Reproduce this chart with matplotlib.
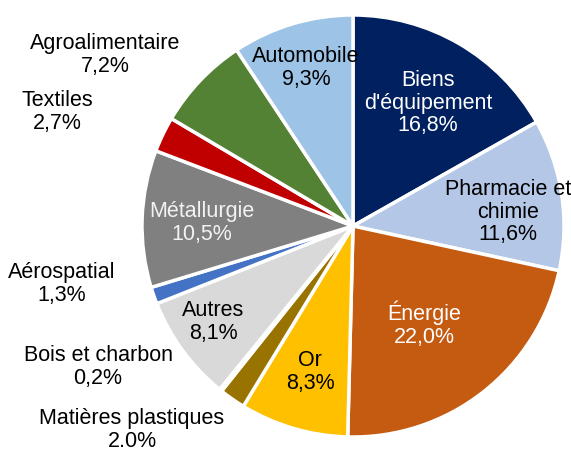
import matplotlib.pyplot as plt

# Secteurs, dans le sens horaire depuis le haut
secteurs = [
    "Biens\nd'équipement", "Pharmacie et\nchimie", "Énergie", "Or",
    "Matières plastiques", "Bois et charbon", "Autres", "Aérospatial",
    "Métallurgie", "Textiles", "Agroalimentaire", "Automobile",
]
parts = [16.8, 11.6, 22.0, 8.3, 2.0, 0.2, 8.1, 1.3, 10.5, 2.7, 7.2, 9.3]
etiquettes_pct = ["16,8%", "11,6%", "22,0%", "8,3%", "2.0%", "0,2%",
                  "8,1%", "1,3%", "10,5%", "2,7%", "7,2%", "9,3%"]
couleurs = ["#002060", "#B4C7E7", "#C55A11", "#FFC000", "#997300", "#7F6000",
            "#D9D9D9", "#4472C4", "#808080", "#C00000", "#548235", "#9DC3E6"]
couleurs_texte = ["white", "black", "white", "black", "black", "black",
                  "black", "black", "#F2F2F2", "black", "black", "black"]

# label placement in pixels (x, y from top)
pos_labels = [(428, 103), (508, 212), (424, 324), (310, 372), (132, 430),
              (98, 367), (213, 322), (62, 284), (202, 223), (57, 112),
              (105, 55), (306, 68)]

W, H = 571, 450
plt.rcParams["font.family"] = ["Liberation Sans", "DejaVu Sans"]

fig = plt.figure(figsize=(W / 100, H / 100), dpi=100)
ax = fig.add_axes([0, 0, 1, 1])

ax.pie(parts, colors=couleurs, startangle=90, counterclock=False,
       center=(353, H - 226), radius=211, frame=True,
       wedgeprops=dict(edgecolor="white", linewidth=2.5))
ax.set_xlim(0, W)
ax.set_ylim(0, H)
ax.set_aspect("equal")
ax.axis("off")

for nom, pct, (x, y), c in zip(secteurs, etiquettes_pct, pos_labels, couleurs_texte):
    ax.text(x, H - y, f"{nom}\n{pct}", ha="center", va="center",
            fontsize=15.5, color=c, linespacing=1.12)

fig.savefig("out.png", dpi=100)
